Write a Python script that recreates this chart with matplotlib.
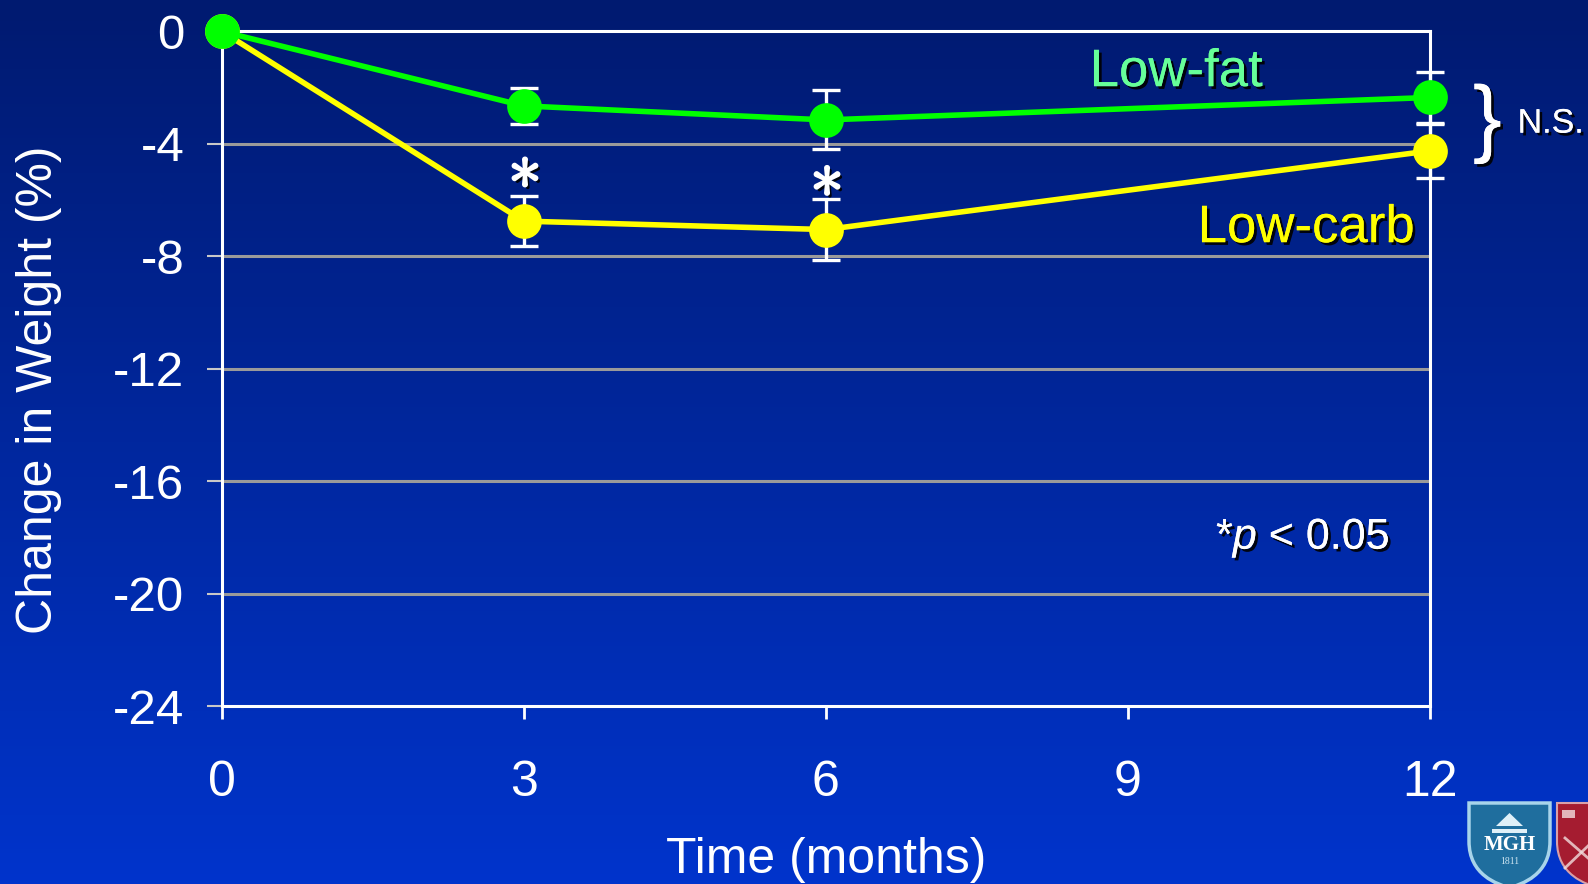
import numpy as np
import matplotlib
matplotlib.use("Agg")
import matplotlib.pyplot as plt
import matplotlib.patheffects as pe
from matplotlib.patches import Polygon, PathPatch
from matplotlib.path import Path

plt.rcParams['font.family'] = ['Liberation Sans', 'DejaVu Sans']
plt.rcParams['mathtext.fontset'] = 'custom'
plt.rcParams['mathtext.it'] = 'Liberation Sans:italic'
plt.rcParams['mathtext.rm'] = 'Liberation Sans'

# Data
months = [0, 3, 6, 12]
low_fat = [0.0, -2.65, -3.15, -2.35]
low_fat_err = [0.0, 0.65, 1.05, 0.9]
low_carb = [0.0, -6.75, -7.05, -4.25]
low_carb_err = [0.0, 0.9, 1.1, 0.95]
x_ticks = [0, 3, 6, 9, 12]
x_tick_labels = ["0", "3", "6", "9", "12"]
y_ticks = [0, -4, -8, -12, -16, -20, -24]
y_tick_labels = ["0", "-4", "-8", "-12", "-16", "-20", "-24"]
sig_months = [3, 6]
sig_y = [-5.0, -5.3]

W, H = 1588, 884
fig = plt.figure(figsize=(W / 100, H / 100), dpi=100)

# Vertical gradient background
bg = fig.add_axes([0, 0, 1, 1], zorder=-10)
top = np.array([0, 26, 112]) / 255
bot = np.array([0, 52, 204]) / 255
t = np.linspace(0, 1, 256)[:, None]
grad = top[None, :] * (1 - t) + bot[None, :] * t
bg.imshow(grad[:, None, :].repeat(2, axis=1), aspect='auto', extent=[0, 1, 0, 1])
bg.set_axis_off()

left, right = 221.8 / W, 1430 / W
top_f, bot_f = 1 - 31.4 / H, 1 - 706 / H
ax = fig.add_axes([left, bot_f, right - left, top_f - bot_f])
ax.set_facecolor('none')

ax.set_xlim(0, 12)
ax.set_ylim(-24, 0)

for y in y_ticks[1:-1]:
    ax.axhline(y, color='#9a9a9a', lw=2.2, zorder=1)

for s in ax.spines.values():
    s.set_color('white')
    s.set_linewidth(2.2)

ax.set_xticks(x_ticks)
ax.set_xticklabels(x_tick_labels)
ax.set_yticks(y_ticks)
ax.set_yticklabels(y_tick_labels)
ax.tick_params(axis='x', colors='white', length=9, width=2, pad=30, labelsize=36, direction='out')
ax.tick_params(axis='y', colors='#c8c8c8', length=11, width=1.5, pad=16, labelsize=35.5, direction='out',
               labelcolor='white')

ax.set_xlabel("Time (months)", color='white', fontsize=36, labelpad=22)
fig.text(39 / W, 1 - 390 / H, "Change in Weight (%)", color='white', fontsize=36,
         rotation=90, ha='center', va='center')

shadow = [pe.withSimplePatchShadow(offset=(2, -2), shadow_rgbFace='black', alpha=0.9), pe.Normal()]
bold_shadow = [pe.withSimplePatchShadow(offset=(2, -2), shadow_rgbFace='black', alpha=0.9),
               pe.withStroke(linewidth=1.6, foreground='white')]

# Error bars
ax.errorbar(months, low_carb, yerr=low_carb_err, fmt='none', ecolor='white', elinewidth=2.4,
            capsize=10, capthick=2.4, errorevery=(1, 1), zorder=3, clip_on=False)
ax.errorbar(months, low_fat, yerr=low_fat_err, fmt='none', ecolor='white', elinewidth=2.4,
            capsize=10, capthick=2.4, errorevery=(1, 1), zorder=3, clip_on=False)

# Series
ax.plot(months, low_carb, color='#ffff00', lw=4.0, marker='o', markersize=25,
        markeredgewidth=0, zorder=4, clip_on=False)
ax.plot(months, low_fat, color='#00ff00', lw=4.0, marker='o', markersize=25,
        markeredgewidth=0, zorder=5, clip_on=False)

# Series labels
ax.text(9.48, -1.45, "Low-fat", color='#66ff99', fontsize=38, ha='center', va='center',
        path_effects=shadow, zorder=6)
ax.text(11.85, -7.0, "Low-carb", color='#ffff00', fontsize=38, ha='right', va='center',
        path_effects=shadow, zorder=6)

# Significance markers
for xm, ym in zip(sig_months, sig_y):
    ax.text(xm, ym, r"$\ast$", color='white', fontsize=48, ha='center', va='center',
            math_fontfamily='cm', path_effects=bold_shadow, zorder=6)

ax.text(11.6, -18.05, r"*$\it{p}$ < 0.05", color='white', fontsize=31, ha='right', va='center',
        path_effects=shadow, zorder=6)

ax.text(12.57, -3.3, "}", color='white', fontsize=62, ha='center', va='center',
        path_effects=shadow, clip_on=False, zorder=6)
ax.text(12.87, -3.3, "N.S.", color='white', fontsize=24.5, ha='left', va='center',
        path_effects=shadow, clip_on=False, zorder=6)

# Institutional shields in the lower-right corner
logo = fig.add_axes([0, 0, 1, 1], zorder=10)
logo.set_xlim(0, W)
logo.set_ylim(H, 0)
logo.set_axis_off()


def shield(x0, x1, y0, y1):
    xm = (x0 + x1) / 2
    ys = y0 + (y1 - y0) * 0.45
    verts = [(x0, y0), (x1, y0), (x1, ys),
             (x1, y0 + (y1 - y0) * 0.85), (xm + (x1 - x0) * 0.15, y1 - 4), (xm, y1),
             (xm - (x1 - x0) * 0.15, y1 - 4), (x0, y0 + (y1 - y0) * 0.85), (x0, ys), (x0, y0)]
    codes = [Path.MOVETO, Path.LINETO, Path.LINETO,
             Path.CURVE4, Path.CURVE4, Path.CURVE4,
             Path.CURVE4, Path.CURVE4, Path.CURVE4, Path.CLOSEPOLY]
    return Path(verts, codes)


logo.add_patch(PathPatch(shield(1469, 1550, 803, 888), facecolor='#1f6e9e', edgecolor='#a8d4ea', lw=2.5))
logo.add_patch(Polygon([(1496, 826), (1509.5, 813), (1523, 826)], closed=True, facecolor='#dff0f8',
                       edgecolor='none'))
logo.add_patch(Polygon([(1492, 829), (1527, 829), (1527, 833), (1492, 833)], closed=True,
                       facecolor='#dff0f8', edgecolor='none'))
logo.text(1509.5, 845, "MGH", color='white', fontsize=15, fontweight='bold', ha='center', va='center',
          family='Liberation Serif')
logo.text(1509.5, 862, "1811", color='#cfe6f2', fontsize=7, ha='center', va='center',
          family='Liberation Serif')
logo.add_patch(PathPatch(shield(1557, 1640, 803, 888), facecolor='#a51c30', edgecolor='#d9a0a8', lw=1.5))
logo.add_patch(Polygon([(1562, 810), (1575, 810), (1575, 818), (1562, 818)], closed=True,
                       facecolor='#f2dede', edgecolor='none', alpha=0.8))
logo.plot([1565, 1588], [838, 858], color='#f2dede', lw=2, alpha=0.8)
logo.plot([1565, 1588], [868, 846], color='#f2dede', lw=2, alpha=0.8)

fig.savefig("out.png", dpi=100)
